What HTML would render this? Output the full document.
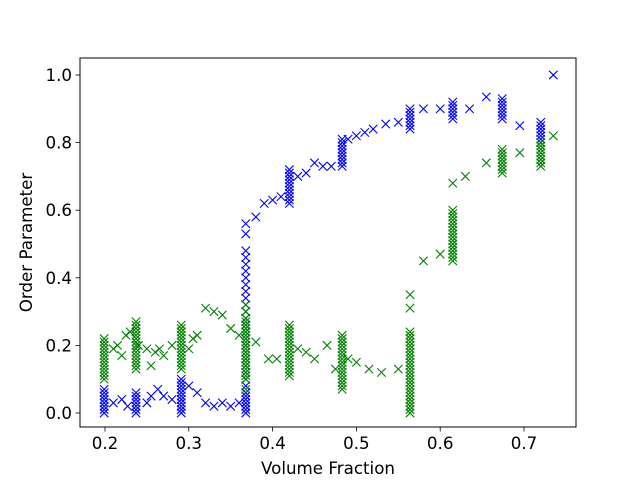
<!DOCTYPE html>
<html><head><meta charset="utf-8"><style>
body{margin:0;background:#fff}
svg{display:block;font-family:"DejaVu Sans","Liberation Sans",sans-serif}
</style></head><body>
<svg id="chart" width="640" height="480" viewBox="0 0 640 480">
<rect x="0" y="0" width="640" height="480" fill="#fff"/>
<g id="marks"></g>
<g id="axes"></g>
</svg>
<script>
// x tick labels
const xTicks=[0.2,0.3,0.4,0.5,0.6,0.7];
const yTicks=[0.0,0.2,0.4,0.6,0.8,1.0];
// blue series
const blueX=[
0.199,0.199,0.199,0.199,0.199,0.199,0.199,0.199,
0.237,0.237,0.237,0.237,0.237,0.237,0.237,
0.291,0.291,0.291,0.291,0.291,0.291,0.291,0.291,0.291,0.291,0.291,
0.368,0.368,0.368,0.368,0.368,0.368,0.368,0.368,0.368,0.368,0.368,0.368,0.368,0.368,0.368,0.368,0.368,0.368,0.368,0.368,0.368,0.368,0.368,0.368,0.368,0.368,0.368,0.368,0.368,0.368,
0.42,0.42,0.42,0.42,0.42,0.42,0.42,0.42,0.42,0.42,0.42,
0.483,0.483,0.483,0.483,0.483,0.483,0.483,0.483,0.483,
0.564,0.564,0.564,0.564,0.564,0.564,0.564,
0.615,0.615,0.615,0.615,0.615,0.615,
0.674,0.674,0.674,0.674,0.674,0.674,0.674,
0.72,0.72,0.72,0.72,0.72,0.72,0.72,
0.21,0.22,0.227,0.25,0.255,0.263,0.27,0.28,0.3,0.31,0.32,0.33,0.34,0.35,0.36,0.38,0.39,0.4,0.41,0.43,0.44,0.45,0.46,0.47,0.49,0.5,0.51,0.52,0.535,0.55,0.58,0.6,0.635,0.655,0.695,0.735];
const blueY=[
0.0,0.01,0.02,0.03,0.04,0.05,0.06,0.07,
0.0,0.01,0.02,0.03,0.04,0.05,0.06,
0.0,0.01,0.02,0.03,0.04,0.05,0.06,0.07,0.08,0.09,0.1,
0.0,0.02,0.04,0.06,0.08,0.1,0.12,0.14,0.16,0.18,0.2,0.22,0.24,0.26,0.28,0.3,0.32,0.34,0.36,0.38,0.4,0.42,0.44,0.46,0.48,0.01,0.03,0.05,0.53,0.56,
0.62,0.63,0.64,0.65,0.66,0.67,0.68,0.69,0.7,0.71,0.72,
0.73,0.74,0.75,0.76,0.77,0.78,0.79,0.8,0.81,
0.84,0.85,0.86,0.87,0.88,0.89,0.9,
0.87,0.88,0.89,0.9,0.91,0.92,
0.87,0.88,0.89,0.9,0.91,0.92,0.93,
0.8,0.81,0.82,0.83,0.84,0.85,0.86,
0.03,0.04,0.02,0.03,0.05,0.07,0.05,0.04,0.08,0.06,0.03,0.02,0.03,0.02,0.03,0.58,0.62,0.63,0.64,0.70,0.71,0.74,0.73,0.73,0.81,0.82,0.83,0.84,0.855,0.86,0.9,0.9,0.9,0.935,0.85,1.0];
// green series
const greenX=[
0.199,0.199,0.199,0.199,0.199,0.199,0.199,0.199,0.199,0.199,0.199,0.199,0.199,
0.237,0.237,0.237,0.237,0.237,0.237,0.237,0.237,0.237,0.237,0.237,0.237,0.237,0.237,0.237,
0.291,0.291,0.291,0.291,0.291,0.291,0.291,0.291,0.291,0.291,0.291,0.291,0.291,0.291,
0.368,0.368,0.368,0.368,0.368,0.368,0.368,0.368,0.368,0.368,0.368,0.368,0.368,0.368,0.368,0.368,0.368,0.368,0.368,0.368,0.368,0.368,
0.42,0.42,0.42,0.42,0.42,0.42,0.42,0.42,0.42,0.42,0.42,0.42,0.42,0.42,0.42,0.42,
0.483,0.483,0.483,0.483,0.483,0.483,0.483,0.483,0.483,0.483,0.483,0.483,0.483,0.483,0.483,0.483,0.483,
0.564,0.564,0.564,0.564,0.564,0.564,0.564,0.564,0.564,0.564,0.564,0.564,0.564,0.564,0.564,0.564,0.564,0.564,0.564,0.564,0.564,0.564,0.564,0.564,0.564,0.564,0.564,
0.615,0.615,0.615,0.615,0.615,0.615,0.615,0.615,0.615,0.615,0.615,0.615,0.615,0.615,0.615,0.615,
0.674,0.674,0.674,0.674,0.674,0.674,0.674,0.674,
0.72,0.72,0.72,0.72,0.72,0.72,0.72,0.72,
0.21,0.215,0.22,0.225,0.23,0.24,0.25,0.255,0.26,0.265,0.27,0.28,0.3,0.305,0.31,0.32,0.33,0.34,0.35,0.36,0.38,0.395,0.405,0.43,0.44,0.45,0.465,0.475,0.49,0.5,0.515,0.53,0.55,0.58,0.6,0.615,0.63,0.655,0.695,0.735];
const greenY=[
0.1,0.11,0.12,0.13,0.14,0.15,0.16,0.17,0.18,0.19,0.2,0.21,0.22,
0.13,0.14,0.15,0.16,0.17,0.18,0.19,0.2,0.21,0.22,0.23,0.24,0.25,0.26,0.27,
0.13,0.14,0.15,0.16,0.17,0.18,0.19,0.2,0.21,0.22,0.23,0.24,0.25,0.26,
0.07,0.1,0.11,0.12,0.13,0.14,0.15,0.16,0.17,0.18,0.19,0.2,0.21,0.22,0.23,0.24,0.25,0.26,0.27,0.28,0.3,0.32,
0.11,0.12,0.13,0.14,0.15,0.16,0.17,0.18,0.19,0.2,0.21,0.22,0.23,0.24,0.25,0.26,
0.07,0.08,0.09,0.1,0.11,0.12,0.13,0.14,0.15,0.16,0.17,0.18,0.19,0.2,0.21,0.22,0.23,
0.0,0.01,0.02,0.03,0.04,0.05,0.06,0.07,0.08,0.09,0.1,0.11,0.12,0.13,0.14,0.15,0.16,0.17,0.18,0.19,0.2,0.21,0.22,0.23,0.24,0.31,0.35,
0.45,0.46,0.47,0.48,0.49,0.5,0.51,0.52,0.53,0.54,0.55,0.56,0.57,0.58,0.59,0.6,
0.71,0.72,0.73,0.74,0.75,0.76,0.77,0.78,
0.73,0.74,0.75,0.76,0.77,0.78,0.79,0.8,
0.19,0.2,0.17,0.23,0.24,0.2,0.19,0.14,0.18,0.19,0.17,0.2,0.19,0.22,0.23,0.31,0.3,0.29,0.25,0.23,0.21,0.16,0.16,0.19,0.18,0.16,0.2,0.13,0.16,0.15,0.13,0.12,0.13,0.45,0.47,0.68,0.7,0.74,0.77,0.82];

const L=80,R=576,T=58,B=427;
const X=v=>105+(v-0.2)*838;
const Y=v=>413-v*338;
const NS="http://www.w3.org/2000/svg";
function mk(tag,attrs,parent){const e=document.createElementNS(NS,tag);for(const k in attrs)e.setAttribute(k,attrs[k]);parent.appendChild(e);return e;}
const marks=document.getElementById('marks');
function drawSeries(xs,ys,color,name){
  const g=mk('g',{},marks);
  
  
  for(let i=0;i<xs.length;i++){
    const cx=X(xs[i]),cy=Y(ys[i]),s=4.2;
    const p=mk('path',{d:`M${cx-s},${cy-s}L${cx+s},${cy+s}M${cx-s},${cy+s}L${cx+s},${cy-s}`,stroke:color,'stroke-width':1.1,fill:'none'},g);
    
    
  }
}
drawSeries(blueX,blueY,'#0000ff','blue-series');
drawSeries(greenX,greenY,'#008000','green-series');
const axes=document.getElementById('axes');
const frame=mk('rect',{x:L,y:T,width:R-L,height:B-T,fill:'none',stroke:'#000','stroke-width':1},axes);


xTicks.forEach(t=>{
  const x=X(t);
  mk('line',{x1:x,y1:B,x2:x,y2:B+4.5,stroke:'#000','stroke-width':0.8},axes);
  const tx=mk('text',{x:x,y:B+22,'font-size':16.7,'text-anchor':'middle',fill:'#000'},axes);
  tx.textContent=t.toFixed(1);
  
  
});
yTicks.forEach(t=>{
  const y=Y(t);
  mk('line',{x1:L,y1:y,x2:L-4.5,y2:y,stroke:'#000','stroke-width':0.8},axes);
  const tx=mk('text',{x:L-8,y:y+6,'font-size':16.7,'text-anchor':'end',fill:'#000'},axes);
  tx.textContent=t.toFixed(1);
  
  
});
const xt=mk('text',{x:(L+R)/2,y:474,'font-size':16.7,'text-anchor':'middle',fill:'#000'},axes);
xt.textContent='Volume Fraction';


const yt=mk('text',{x:0,y:0,'font-size':16.7,'text-anchor':'middle',fill:'#000',transform:`translate(32,${(T+B)/2}) rotate(-90)`},axes);
yt.textContent='Order Parameter';


</script>
</body></html>
